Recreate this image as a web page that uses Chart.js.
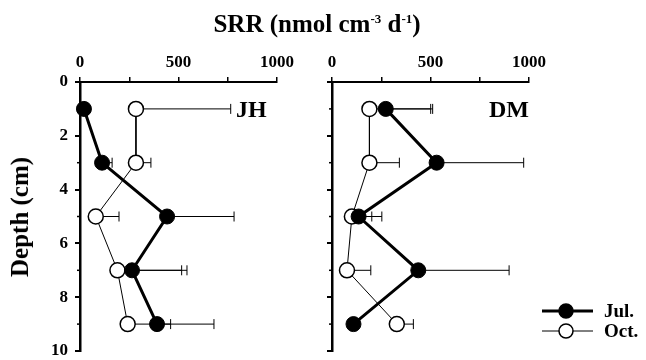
<!DOCTYPE html>
<html>
<head>
<meta charset="utf-8">
<script src="https://cdn.jsdelivr.net/npm/chart.js@4.4.0/dist/chart.umd.min.js"></script>
<style>
  body { margin: 0; background: #fff; }
  #wrap { position: relative; width: 646px; height: 360px; overflow: hidden; font-family: "Liberation Serif", "DejaVu Serif", serif; }
  #left { position: absolute; left: 0; top: 0; }
  #right { position: absolute; left: 300px; top: 0; }
  .ttl { position: absolute; font-weight: bold; color: #000; white-space: nowrap; }
  #srr { left: 317px; top: 10px; font-size: 25px; transform: translateX(-50%); }
  #srr sup { font-size: 13px; }
  #depth { left: 20px; top: 217px; font-size: 25px; transform: translate(-50%, -50%) rotate(-90deg); }
</style>
</head>
<body>
<div id="wrap">
  <canvas id="left" width="300" height="360"></canvas>
  <canvas id="right" width="346" height="360"></canvas>
  <div class="ttl" id="srr">SRR (nmol cm<sup>-3</sup> d<sup>-1</sup>)</div>
  <div class="ttl" id="depth">Depth (cm)</div>
</div>
<script>
// depth profiles, values
const depths = [1, 3, 5, 7, 9];
const xTicks = [0, 500, 1000];

const jhJul = [20, 112, 442, 264, 391];
const jhJulErr = [0, 51, 340, 279, 289];
const jhOct = [284, 284, 80, 190, 242];
const jhOctErr = [481, 76, 118, 326, 218];

const dmJul = [273, 531, 135, 438, 109];
const dmJulErr = [238, 442, 118, 461, 0];
const dmOct = [190, 190, 101, 76, 329];
const dmOctErr = [311, 152, 101, 121, 84];

const serif = "'Liberation Serif', 'DejaVu Serif', serif";

// draw the +SD whiskers behind the markers
const errorBars = {
  id: "errorBars",
  beforeDatasetsDraw(chart) {
    const ctx = chart.ctx;
    const xs = chart.scales.x, ys = chart.scales.y;
    ctx.save();
    ctx.strokeStyle = "#000";
    ctx.lineWidth = 1;
    chart.data.datasets.forEach((ds) => {
      ds.data.forEach((p, i) => {
        const e = ds.errors[i];
        if (!e) return;
        const x0 = xs.getPixelForValue(p.x);
        const x1 = xs.getPixelForValue(p.x + e);
        const y = ys.getPixelForValue(p.y);
        ctx.beginPath();
        ctx.moveTo(x0, y);
        ctx.lineTo(x1, y);
        ctx.moveTo(x1, y - 5);
        ctx.lineTo(x1, y + 5);
        ctx.stroke();
      });
    });
    ctx.restore();
  },
};

// short ticks at the odd depths
const minorTicks = {
  id: "minorTicks",
  afterDraw(chart) {
    const ctx = chart.ctx;
    const ys = chart.scales.y;
    ctx.save();
    ctx.strokeStyle = "#000";
    ctx.lineWidth = 1.5;
    depths.forEach((d) => {
      const y = ys.getPixelForValue(d);
      ctx.beginPath();
      ctx.moveTo(ys.right - 3, y);
      ctx.lineTo(ys.right, y);
      ctx.stroke();
    });
    ctx.restore();
  },
};

const panelLabel = {
  id: "panelLabel",
  afterDraw(chart, args, opts) {
    const ctx = chart.ctx;
    ctx.save();
    ctx.font = "bold 24px " + serif;
    ctx.fillStyle = "#000";
    ctx.textBaseline = "alphabetic";
    ctx.fillText(opts.text, opts.x, opts.y);
    ctx.restore();
  },
};

// legend drawn by hand in the bottom right corner
const legendBox = {
  id: "legendBox",
  afterDraw(chart, args, opts) {
    if (!opts.show) return;
    const ctx = chart.ctx;
    ctx.save();
    chart.data.datasets.forEach((ds, i) => {
      const y = 311 + i * 20;
      ctx.strokeStyle = "#000";
      ctx.lineWidth = ds.borderWidth;
      ctx.beginPath();
      ctx.moveTo(242, y);
      ctx.lineTo(293, y);
      ctx.stroke();
      ctx.fillStyle = ds.pointBackgroundColor;
      ctx.lineWidth = 1.5;
      ctx.beginPath();
      ctx.arc(266, y, 7, 0, Math.PI * 2);
      ctx.fill();
      ctx.stroke();
      ctx.fillStyle = "#000";
      ctx.font = "bold 19px " + serif;
      ctx.textBaseline = "middle";
      ctx.fillText(ds.label, 304, y + 1);
    });
    ctx.restore();
  },
};

function makePanel(id, jul, julErr, oct, octErr, label, labelX, showYLabels, pad, yWidth) {
  const pts = (vals) => vals.map((v, i) => ({ x: v, y: depths[i] }));
  new Chart(document.getElementById(id), {
    type: "scatter",
    data: {
      datasets: [
        {
          label: "Jul.",
          data: pts(jul),
          errors: julErr,
          showLine: true,
          borderColor: "#000",
          borderWidth: 3,
          pointRadius: 7.5,
          pointBackgroundColor: "#000",
          pointBorderColor: "#000",
          pointBorderWidth: 1,
        },
        {
          label: "Oct.",
          data: pts(oct),
          errors: octErr,
          showLine: true,
          borderColor: "#000",
          borderWidth: 1,
          pointRadius: 7.5,
          pointBackgroundColor: "#fff",
          pointBorderColor: "#000",
          pointBorderWidth: 1.5,
        },
      ],
    },
    options: {
      responsive: false,
      animation: false,
      clip: false,
      layout: { padding: pad },
      plugins: {
        legend: { display: false },
        tooltip: { enabled: false },
        panelLabel: { text: label, x: labelX, y: 117 },
        legendBox: { show: id === "right" },
      },
      scales: {
        x: {
          type: "linear",
          position: "top",
          min: 0,
          max: 1000,
          afterFit: (s) => {
            s.height = 82 - pad.top;
            s.paddingLeft = 0;
            s.paddingRight = 0;
          },
          afterBuildTicks: (s) => { s.ticks = [0, 250, 500, 750, 1000].map((v) => ({ value: v })); },
          ticks: {
            color: "#000",
            font: { family: serif, size: 17, weight: "bold" },
            padding: 4,
            maxRotation: 0,
            callback: (v) => (xTicks.includes(v) ? String(v) : ""),
          },
          grid: { drawOnChartArea: false, tickLength: 5, color: "#000", lineWidth: 1.5 },
          border: { color: "#000", width: 2 },
        },
        y: {
          type: "linear",
          reverse: true,
          min: 0,
          max: 10,
          afterFit: (s) => {
            s.width = yWidth;
            s.paddingTop = 0;
            s.paddingBottom = 0;
          },
          ticks: {
            stepSize: 2,
            autoSkip: false,
            color: "#000",
            font: { family: serif, size: 17, weight: "bold" },
            padding: 7,
            callback: (v) => (showYLabels ? String(v) : ""),
          },
          grid: { drawOnChartArea: false, tickLength: 5, color: "#000", lineWidth: 2 },
          border: { color: "#000", width: 2.5 },
        },
      },
    },
    plugins: [errorBars, minorTicks, panelLabel, legendBox],
  });
}

makePanel("left", jhJul, jhJulErr, jhOct, jhOctErr, "JH", 236, true,
  { left: 40, right: 23, top: 40, bottom: 9 }, 40);
makePanel("right", dmJul, dmJulErr, dmOct, dmOctErr, "DM", 189, false,
  { left: 0, right: 117, top: 40, bottom: 9 }, 32);
</script>
</body>
</html>
